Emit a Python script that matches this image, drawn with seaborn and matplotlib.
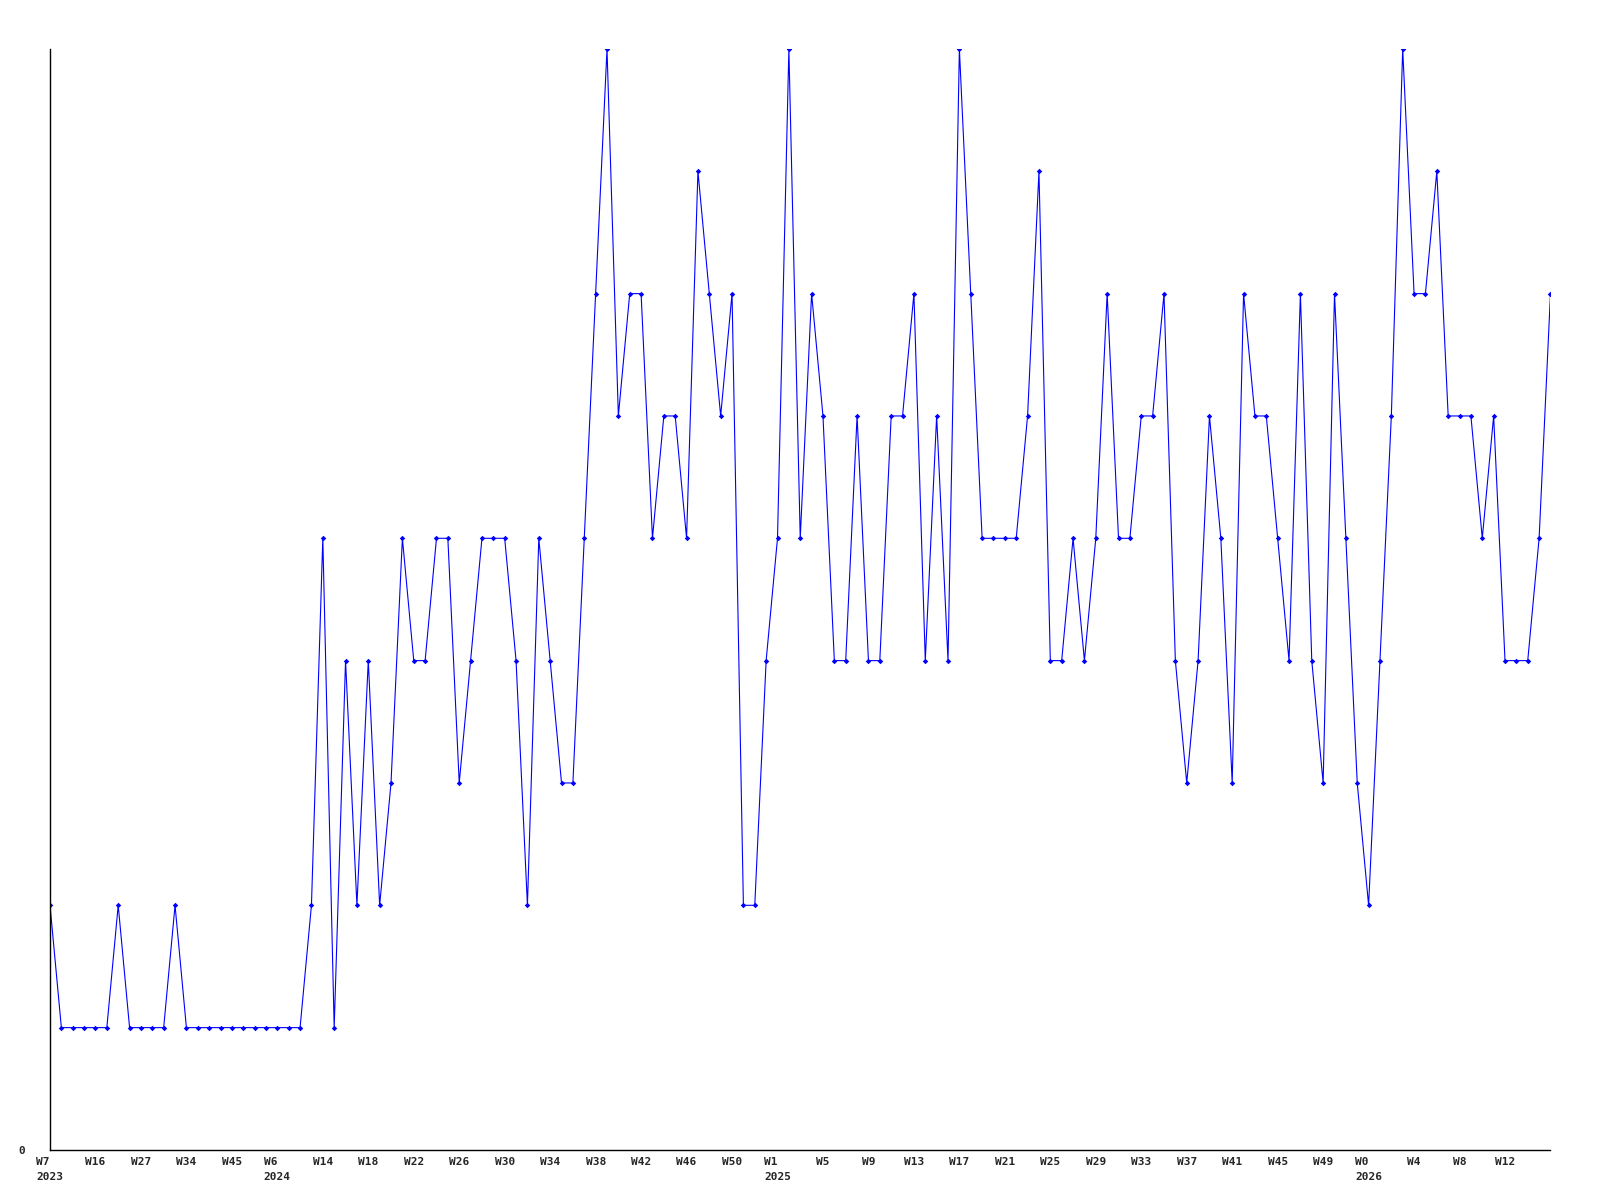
import numpy as np
import matplotlib
matplotlib.use('Agg')
import matplotlib.pyplot as plt
import seaborn as sns
import pandas as pd

# weekly counts, one value per point
counts = [
    2, 1, 1, 1, 1, 1, 2, 1, 1, 1, 1, 2, 1, 1, 1, 1, 1, 1, 1, 1,
    1, 1, 1, 2, 5, 1, 4, 2, 4, 2, 3, 5, 4, 4, 5, 5, 3, 4, 5, 5,
    5, 4, 2, 5, 4, 3, 3, 5, 7, 9, 6, 7, 7, 5, 6, 6, 5, 8, 7, 6,
    7, 2, 2, 4, 5, 9, 5, 7, 6, 4, 4, 6, 4, 4, 6, 6, 7, 4, 6, 4,
    9, 7, 5, 5, 5, 5, 6, 8, 4, 4, 5, 4, 5, 7, 5, 5, 6, 6, 7, 4,
    3, 4, 6, 5, 3, 7, 6, 6, 5, 4, 7, 4, 3, 7, 5, 3, 2, 4, 6, 9,
    7, 7, 8, 6, 6, 6, 5, 6, 4, 4, 4, 5, 7,
]

# a label on every 4th point
week_labels = [
    'W7', 'W16', 'W27', 'W34', 'W45', 'W6', 'W14', 'W18', 'W22', 'W26',
    'W30', 'W34', 'W38', 'W42', 'W46', 'W50', 'W1', 'W5', 'W9', 'W13',
    'W17', 'W21', 'W25', 'W29', 'W33', 'W37', 'W41', 'W45', 'W49', 'W0',
    'W4', 'W8', 'W12',
]
year_labels = {'W7': '2023', 'W6': '2024', 'W1': '2025', 'W0': '2026'}

df = pd.DataFrame({'idx': np.arange(len(counts)), 'count': counts})

sns.set_style('white')
plt.rcParams['font.family'] = ['DejaVu Sans Mono']

fig = plt.figure(figsize=(16, 12), dpi=100)
ax = fig.add_axes([0.03125, 0.0417, 0.9378, 0.9175])

sns.lineplot(data=df, x='idx', y='count', ax=ax, color='#0000ff', linewidth=0.8,
             marker='D', markersize=2.8, markeredgewidth=0, markerfacecolor='#0000ff')

ax.set_xlim(0, len(counts) - 1)
ax.set_ylim(0, 9)

ticks = np.arange(len(week_labels)) * 4
labels = []
for w in week_labels:
    if w in year_labels:
        labels.append(w + '\n' + year_labels.pop(w))
    else:
        labels.append(w)
ax.set_xticks(ticks)
ax.set_xticklabels(labels, fontsize=8, fontweight='bold', multialignment='left',
                   linespacing=1.6)
ax.set_yticks([0])
ax.set_yticklabels(['0'], fontsize=8, fontweight='bold')
ax.tick_params(axis='x', length=0, pad=5)
ax.tick_params(axis='y', length=0, pad=18)
ax.set_xlabel('')
ax.set_ylabel('')

sns.despine(ax=ax)
for s in ['left', 'bottom']:
    ax.spines[s].set_color('black')
    ax.spines[s].set_linewidth(1.0)

fig.savefig('out.png', dpi=100)
